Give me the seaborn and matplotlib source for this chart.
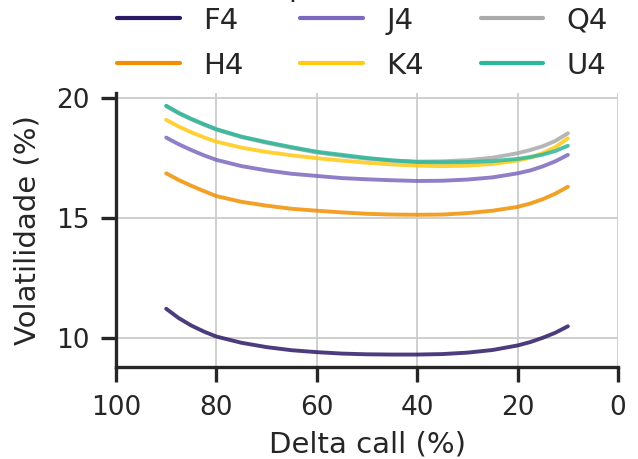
import numpy as np
import pandas as pd
import matplotlib
matplotlib.use("Agg")
import matplotlib.pyplot as plt
import seaborn as sns

# Smile de volatilidade por vencimento
delta = [90, 87.5, 85, 82.5, 80, 75, 70, 65, 60, 55, 50, 45, 40,
         35, 30, 25, 20, 17.5, 15, 12.5, 10]
f4 = [11.20, 10.81, 10.50, 10.25, 10.04, 9.78, 9.60, 9.47, 9.39, 9.33, 9.30,
      9.29, 9.29, 9.31, 9.37, 9.48, 9.67, 9.81, 9.99, 10.20, 10.47]
h4 = [16.85, 16.57, 16.33, 16.11, 15.90, 15.66, 15.50, 15.37, 15.29, 15.22, 15.16,
      15.13, 15.12, 15.13, 15.19, 15.29, 15.45, 15.59, 15.77, 16.00, 16.29]
j4 = [18.34, 18.06, 17.82, 17.60, 17.41, 17.15, 16.97, 16.83, 16.74, 16.65, 16.60,
      16.56, 16.53, 16.54, 16.59, 16.68, 16.85, 16.97, 17.14, 17.35, 17.62]
k4 = [19.08, 18.80, 18.56, 18.35, 18.17, 17.92, 17.74, 17.60, 17.48, 17.38, 17.29,
      17.22, 17.17, 17.15, 17.17, 17.24, 17.38, 17.50, 17.69, 17.94, 18.31]
q4 = [19.65, 19.35, 19.10, 18.88, 18.67, 18.36, 18.12, 17.91, 17.72, 17.58, 17.46,
      17.38, 17.34, 17.35, 17.40, 17.50, 17.69, 17.82, 17.98, 18.20, 18.52]
u4 = [19.67, 19.37, 19.12, 18.90, 18.69, 18.38, 18.15, 17.94, 17.75, 17.62, 17.49,
      17.39, 17.32, 17.31, 17.32, 17.36, 17.45, 17.53, 17.63, 17.78, 18.00]

series = {"F4": f4, "H4": h4, "J4": j4, "K4": k4, "Q4": q4, "U4": u4}
colors = ["#2c1a67", "#f18f01", "#7b68bf", "#ffc914", "#aaaaaa", "#2cb99a"]

rows = []
for name, vals in series.items():
    for d, v in zip(delta, vals):
        rows.append({"Delta": d, "Vol": v, "Tipo": name})
df = pd.DataFrame(rows)

sns.set_theme(style="whitegrid")
plt.rcParams["font.family"] = ["DejaVu Sans"]
plt.rcParams["text.color"] = "#262626"
plt.rcParams["axes.labelcolor"] = "#262626"
plt.rcParams["xtick.color"] = "#262626"
plt.rcParams["ytick.color"] = "#262626"

fig = plt.figure(figsize=(6.38, 4.59), dpi=100)
ax = fig.add_axes([0.1818, 0.2004, 0.787, 0.597])

sns.lineplot(data=df, x="Delta", y="Vol", hue="Tipo", palette=colors,
             linewidth=2.8, alpha=0.85, ax=ax)

ax.set_xlim(100, 0)
ax.set_ylim(8.77, 20.2)
ax.set_xticks([100, 80, 60, 40, 20, 0])
ax.set_yticks([10, 15, 20])
ax.grid(True, color="#cccccc", linewidth=1.3)
sns.despine(ax=ax)
for s in ["left", "bottom"]:
    ax.spines[s].set_linewidth(2.4)
    ax.spines[s].set_color("#262626")
ax.tick_params(axis="both", which="major", bottom=True, left=True,
               length=10.8, width=2.4, labelsize=19, pad=9, direction="out",
               color="#262626")
ax.tick_params(axis="y", pad=8)
ax.set_xlabel("Delta call (%)", fontsize=21, labelpad=7)
ax.set_ylabel("Volatilidade (%)", fontsize=21, labelpad=11)

leg = ax.legend(ncol=3, loc="upper left",
                bbox_to_anchor=(0.165, 1.011), bbox_transform=fig.transFigure,
                frameon=False, fontsize=21,
                handlelength=2.15, handletextpad=0.8, columnspacing=1.95,
                labelspacing=0.58, borderaxespad=0)
for line in leg.get_lines():
    line.set_alpha(1)
    line.set_linewidth(3)

# legend title, cropped at the top edge like the original
fig.text(0.462, 1.009, "Tipo", ha="center", va="baseline", fontsize=21)

fig.savefig("out.png", dpi=100)
